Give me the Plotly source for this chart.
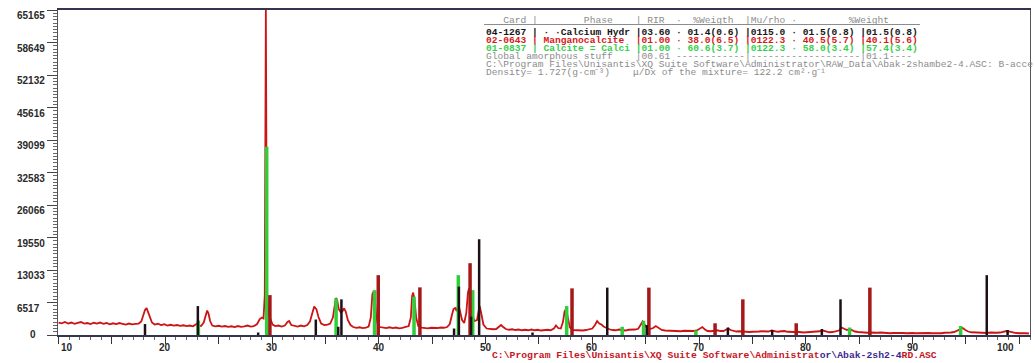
import plotly.graph_objects as go

# ---------------- measured pattern (2-theta, counts) ----------------
two_theta = [
    10.0, 10.3, 10.6, 10.9, 11.2, 11.5, 11.8, 12.1, 12.4, 12.7, 13.0, 13.3, 13.6, 13.9, 14.2, 14.5,
    14.8, 15.1, 15.4, 15.7, 16.0, 16.3, 16.6, 16.9, 17.2, 17.5, 17.75, 17.95, 18.1, 18.25, 18.4, 18.55,
    18.75, 19.0, 19.3, 19.6, 19.9, 20.2, 20.5, 20.8, 21.1, 21.4, 21.7, 22.0, 22.3, 22.6, 22.85, 23.0,
    23.15, 23.35, 23.6, 23.8, 23.92, 24.05, 24.2, 24.4, 24.7, 25.0, 25.3, 25.6, 25.9, 26.2, 26.5, 26.8,
    27.1, 27.4, 27.7, 28.0, 28.3, 28.6, 28.85, 29.05, 29.2, 29.32, 29.42, 29.52, 29.65, 29.85, 30.05, 30.3,
    30.6, 30.9, 31.2, 31.45, 31.6, 31.8, 32.1, 32.4, 32.7, 33.0, 33.3, 33.55, 33.75, 33.95, 34.15, 34.35,
    34.6, 34.9, 35.2, 35.45, 35.7, 35.85, 35.98, 36.1, 36.25, 36.45, 36.6, 36.75, 36.9, 37.1, 37.35, 37.6,
    37.9, 38.2, 38.5, 38.8, 39.05, 39.25, 39.4, 39.5, 39.6, 39.75, 39.9, 40.1, 40.4, 40.7, 41.0, 41.3,
    41.6, 41.9, 42.2, 42.5, 42.8, 43.0, 43.12, 43.22, 43.35, 43.5, 43.7, 44.0, 44.3, 44.6, 44.9, 45.2,
    45.5, 45.8, 46.1, 46.4, 46.65, 46.85, 47.0, 47.15, 47.3, 47.45, 47.6, 47.8, 48.0, 48.2, 48.35, 48.45,
    48.58, 48.75, 48.95, 49.2, 49.35, 49.45, 49.58, 49.8, 50.1, 50.4, 50.7, 51.0, 51.25, 51.45, 51.65, 51.9,
    52.2, 52.5, 52.8, 53.1, 53.4, 53.7, 54.0, 54.3, 54.6, 54.9, 55.2, 55.5, 55.8, 56.1, 56.4, 56.6,
    56.8, 57.05, 57.25, 57.4, 57.55, 57.7, 57.9, 58.2, 58.5, 58.8, 59.1, 59.4, 59.7, 60.0, 60.25, 60.45,
    60.65, 60.85, 61.05, 61.3, 61.6, 61.9, 62.2, 62.5, 62.8, 63.1, 63.4, 63.7, 64.0, 64.3, 64.55, 64.72,
    64.9, 65.1, 65.4, 65.7, 65.95, 66.2, 66.5, 66.8, 67.1, 67.4, 67.7, 68.0, 68.3, 68.6, 68.9, 69.2,
    69.5, 69.8, 70.05, 70.3, 70.55, 70.8, 71.1, 71.4, 71.7, 72.0, 72.3, 72.55, 72.75, 72.95, 73.2, 73.5,
    73.8, 74.1, 74.4, 74.7, 75.0, 75.3, 75.6, 75.9, 76.2, 76.5, 76.8, 77.1, 77.4, 77.7, 78.0, 78.3,
    78.6, 78.9, 79.2, 79.5, 79.8, 80.1, 80.4, 80.7, 81.0, 81.3, 81.6, 81.9, 82.2, 82.5, 82.8, 83.1,
    83.35, 83.6, 83.85, 84.1, 84.35, 84.6, 84.9, 85.2, 85.5, 85.8, 86.1, 86.4, 86.7, 87.0, 87.3, 87.6,
    87.9, 88.2, 88.5, 88.8, 89.1, 89.4, 89.7, 90.0, 90.3, 90.6, 90.9, 91.2, 91.5, 91.8, 92.1, 92.4,
    92.7, 93.0, 93.3, 93.6, 93.9, 94.2, 94.45, 94.7, 94.95, 95.2, 95.5, 95.8, 96.1, 96.4, 96.7, 97.0,
    97.3, 97.6, 97.9, 98.2, 98.5, 98.8, 99.1, 99.4, 99.7, 100.0, 100.3, 100.6, 100.9,
]
counts = [
    2500, 2350, 2600, 2300, 2500, 2250, 2450, 2600, 2300, 2400, 2200, 2450, 2300, 2500, 2250, 2400,
    2150, 2350, 2200, 2400, 2250, 2100, 2300, 2150, 2250, 2300, 2700, 3800, 5000, 5400, 4500, 3300,
    2500, 2100, 2250, 2000, 2150, 1900, 2050, 1900, 2000, 1850, 1950, 1800, 1900, 1750, 2000, 2300,
    1900, 1800, 2500, 4200, 4900, 4300, 2800, 1900, 1750, 1850, 1700, 1800, 1650, 1750, 1600, 1800,
    1650, 1750, 1900, 1700, 1800, 2200, 3200, 3500, 3300, 8000, 65165, 8000, 4500, 3200, 2100, 1800,
    1900, 1700, 1900, 2600, 2800, 2000, 1800, 1700, 1900, 1750, 2000, 2700, 4200, 5700, 5200, 3600,
    2300, 2000, 2100, 2300, 3500, 6200, 7400, 7000, 5200, 4500, 4800, 5350, 4700, 3000, 2000, 1600,
    1450, 1550, 1400, 1500, 1700, 3500, 8200, 8700, 7800, 4000, 2200, 1600, 1500, 1400, 1550, 1400,
    1500, 1350, 1450, 1550, 1800, 3500, 7800, 8500, 7000, 3500, 1800, 1500, 1400, 1350, 1450, 1350,
    1400, 1500, 1450, 1600, 2200, 4000, 5200, 5400, 4800, 6200, 5000, 3000, 2400, 4500, 8500, 9350,
    7500, 4200, 2800, 3000, 4800, 5800, 4500, 2100, 1300, 1200, 1150, 1200, 1600, 2000, 1600, 1200,
    1050, 1150, 1000, 1100, 950, 1050, 950, 1100, 950, 1050, 900, 1000, 1050, 950, 1300, 1900,
    1400, 1300, 2600, 4700, 5300, 3600, 1500, 1000, 950, 1050, 900, 1000, 1100, 1300, 2000, 2800,
    2300, 2100, 1700, 1400, 1150, 1000, 950, 1100, 1000, 900, 1050, 1000, 1100, 1250, 2000, 2700,
    2100, 1500, 1200, 1400, 1800, 1400, 1000, 900, 850, 950, 800, 850, 750, 850, 800, 700,
    800, 900, 1200, 1600, 1100, 800, 750, 850, 950, 800, 800, 1100, 1300, 1000, 800, 700,
    750, 650, 700, 600, 650, 600, 700, 750, 650, 700, 900, 700, 650, 750, 800, 650,
    550, 600, 650, 550, 500, 550, 600, 500, 550, 750, 900, 650, 550, 600, 700, 900,
    1500, 1200, 1000, 1200, 950, 700, 600, 500, 550, 450, 500, 400, 450, 500, 400, 450,
    350, 400, 450, 350, 400, 350, 450, 400, 350, 400, 300, 350, 400, 350, 300, 400,
    350, 450, 400, 500, 600, 900, 1200, 1400, 1000, 700, 550, 500, 450, 550, 450, 400,
    500, 400, 450, 500, 600, 800, 700, 500, 400, 350, 400, 350, 300,
]

# ---------------- reference stick patterns ----------------
calcite_pos = [23.1, 29.5, 36.0, 39.6, 43.3, 47.45, 48.8, 57.6, 62.8, 64.8, 69.7, 84.1, 94.5]
calcite_int = [2900, 37750, 7350, 9000, 7700, 12000, 9000, 5800, 1650, 2850, 900, 1500, 1800]

mncalcite_pos = [29.8, 39.95, 43.85, 48.55, 58.1, 65.3, 71.5, 74.1, 79.1, 86.0]
mncalcite_int = [8000, 12000, 9550, 14400, 9350, 9500, 2350, 7150, 2350, 9500]

portlandite_pos = [18.1, 23.05, 28.7, 34.1, 36.2, 36.5, 47.05, 47.5, 48.65, 49.4, 54.4, 61.4,
                   65.1, 72.7, 76.85, 81.5, 83.25, 96.95, 98.9]
portlandite_int = [2200, 5800, 500, 3100, 1650, 7150, 1300, 9700, 3700, 19200, 500, 9500,
                   2000, 1500, 1000, 1200, 7150, 12000, 1000]

# ---------------- axes ----------------
y_step = 6516.5
y_tick_vals = [k * y_step for k in range(11)]
y_tick_text = ["0", "6517", "13033", "19550", "26066", "32583", "39099", "45616", "52132", "58649", "65165"]
x_tick_vals = [10, 20, 30, 40, 50, 60, 70, 80, 90, 100]
x_tick_text = ["10", "20", "30", "40", "50", "60", "70", "80", "90", "100"]

# ---------------- quantification table ----------------
table_header = "   Card |        Phase    | RIR  ·  %Weigth  |Mu/rho ·         %Weight"
table_rows = [
    ("04-1267 | · ·Calcium Hydr |03.60 · 01.4(0.6) |0115.0 · 01.5(0.8) |01.5(0.8)", "#161616", "bold"),
    ("02-0643 | Manganocalcite  |01.00 · 38.0(6.5) |0122.3 · 40.5(5.7) |40.1(5.6)", "#d61a1a", "bold"),
    ("01-0837 | Calcite = Calci |01.00 · 60.6(3.7) |0122.3 · 58.0(3.4) |57.4(3.4)", "#33d04a", "bold"),
    ("Global amorphous stuff    |00.61 ------------|-------------------|01.1----", "#8c8c8c", "normal"),
    ("C:\\Program Files\\Unisantis\\XQ Suite Software\\Administrator\\RAW_Data\\Abak-2shambe2-4.ASC: B-acce",
     "#8c8c8c", "normal"),
    ("Density= 1.727(g·cm⁻³)    μ/Dx of the mixture= 122.2 cm²·g⁻¹", "#8c8c8c", "normal"),
]
# footer caption: file path with an over-printed fragment in a second colour
footer_parts = [
    ("C:\\Program Files\\Unisantis\\XQ Suite Software\\Administrat", "#c8141e"),
    ("or\\Abak-2sh2-4", "#3b2a90"),
    ("RD.ASC", "#c8141e"),
]

# ---------------- geometry helpers (pixel -> paper) ----------------
W, H = 1035, 363
M_L, M_R, M_T, M_B = 58, 5, 10, 28
PW, PH = W - M_L - M_R, H - M_T - M_B


def px_x(px):
    return (px - M_L) / PW


def px_y(py):
    return (H - M_B - py) / PH


def nbsp(s):
    return s.replace(" ", "\u00a0")


def sticks(pos, hts):
    xs, ys = [], []
    for p, h in zip(pos, hts):
        xs += [p, p, None]
        ys += [0, h, None]
    return xs, ys


fig = go.Figure()

fig.add_trace(go.Scatter(
    x=two_theta, y=counts, mode="lines",
    line=dict(color="#cc1414", width=1.8), hoverinfo="skip", showlegend=False,
))

for pos, hts, col, w in [
    (calcite_pos, calcite_int, "#2fcf3a", 3.5),
    (mncalcite_pos, mncalcite_int, "#a51818", 3.5),
    (portlandite_pos, portlandite_int, "#1c1016", 2.5),
]:
    sx, sy = sticks(pos, hts)
    fig.add_trace(go.Scatter(x=sx, y=sy, mode="lines", line=dict(color=col, width=w),
                             hoverinfo="skip", showlegend=False))

annotations = []
tick_font = dict(family="Liberation Sans", size=10, color="#2a2a2a", weight="bold")

# y tick labels, left aligned in the margin, sitting just under each tick
for v, t in zip(y_tick_vals, y_tick_text):
    if v == 0:
        annotations.append(dict(x=px_x(28), xref="paper", y=v, yref="y", text=t, showarrow=False,
                                xanchor="left", yanchor="middle", yshift=1, font=tick_font))
    else:
        annotations.append(dict(x=px_x(15), xref="paper", y=v, yref="y", text=t, showarrow=False,
                                xanchor="left", yanchor="middle", yshift=-5.5, font=tick_font))

# x tick labels (first one left-aligned, last one right-aligned)
for i, (v, t) in enumerate(zip(x_tick_vals, x_tick_text)):
    if i == 0:
        anchor, shift = "left", 0
    elif i == len(x_tick_vals) - 1:
        anchor, shift = "right", -3
    else:
        anchor, shift = "center", 0
    annotations.append(dict(x=v, xref="x", y=px_y(347), yref="paper", text=t, showarrow=False,
                            xanchor=anchor, yanchor="middle", xshift=shift, font=tick_font))

# table block
mono = "Liberation Mono"
tx = px_x(484)
annotations.append(dict(x=tx, xref="paper", y=px_y(20), yref="paper", text=nbsp(table_header),
                        showarrow=False, xanchor="left", yanchor="middle",
                        font=dict(family=mono, size=9.6, color="#8c8c8c")))
row_y = [32.5, 40.5, 48.5, 56.5, 64.5, 72.5]
for (txt, col, wt), ry in zip(table_rows, row_y):
    annotations.append(dict(x=tx, xref="paper", y=px_y(ry), yref="paper", text=nbsp(txt),
                            showarrow=False, xanchor="left", yanchor="middle",
                            font=dict(family=mono, size=9.6, color=col, weight=wt)))

# file path footer
footer_html = "".join(f"<span style='color:{c}'>{nbsp(s)}</span>" for s, c in footer_parts)
annotations.append(dict(x=px_x(490), xref="paper", y=px_y(356), yref="paper", text=footer_html,
                        showarrow=False, xanchor="left", yanchor="middle",
                        font=dict(family=mono, size=9.75, color="#c8141e", weight="bold")))

shapes = [dict(type="line", xref="paper", yref="paper", x0=px_x(484), x1=px_x(920),
               y0=px_y(24.5), y1=px_y(24.5), line=dict(color="#8c8c8c", width=1))]

fig.update_layout(
    width=W, height=H,
    margin=dict(l=M_L, r=M_R, t=M_T, b=M_B, pad=0),
    paper_bgcolor="white", plot_bgcolor="white",
    showlegend=False,
    annotations=annotations,
    shapes=shapes,
    xaxis=dict(
        range=[9.95, 101.0], showgrid=False, zeroline=False,
        showline=True, linecolor="#34344e", linewidth=1.5, mirror=True,
        ticks="outside", tick0=10, dtick=5, ticklen=7, tickwidth=1, tickcolor="#333",
        minor=dict(ticks="outside", dtick=1, ticklen=3, tickcolor="#666", tickwidth=1),
        showticklabels=False,
    ),
    yaxis=dict(
        range=[0, 65165], showgrid=False, zeroline=False,
        showline=True, linecolor="#555", linewidth=1, mirror=True,
        ticks="outside", tick0=0, dtick=y_step, ticklen=10, tickwidth=1, tickcolor="#444",
        minor=dict(ticks="outside", dtick=y_step / 10, ticklen=4, tickcolor="#666", tickwidth=1),
        showticklabels=False,
    ),
)

fig.write_html("out.html")
